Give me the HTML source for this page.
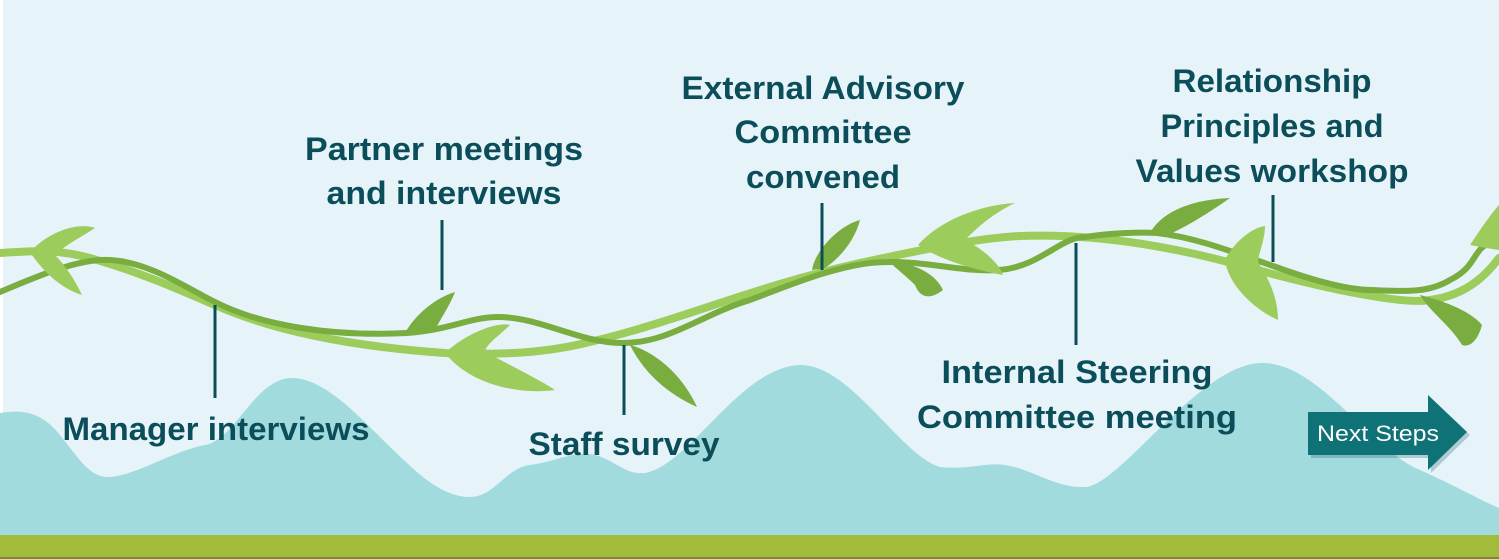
<!DOCTYPE html>
<html><head><meta charset="utf-8"><style>
html,body{margin:0;padding:0;background:#e6f4fa;}
svg{display:block}
text{font-family:"Liberation Sans",sans-serif;font-weight:bold;fill:#0b4e5a;font-size:32px}
</style></head><body>
<svg width="1499" height="559" viewBox="0 0 1499 559" xmlns="http://www.w3.org/2000/svg">
<rect width="1499" height="559" fill="#e6f4fa"/>
<rect x="0" y="0" width="3" height="559" fill="#ffffff"/>
<!-- hills -->
<path d="M0,413 C20,410 40,410 60,435 C80,460 90,478 110,477 C140,474 170,452 205,445 C235,440 255,378 292,378 C330,378 370,430 407,463 C430,485 450,497 470,497 C495,497 505,468 530,465 C555,462 575,450 595,455 C615,460 625,475 645,473 C690,465 740,367 800,365 C850,364 900,455 940,467 C970,470 985,462 1005,465 C1035,470 1055,488 1085,487 C1120,486 1200,363 1262,363 C1320,363 1370,450 1420,470 C1460,488 1480,500 1499,508 L1499,535 L0,535 Z" fill="#a2dbdd"/>
<rect x="0" y="535" width="1499" height="22" fill="#a3bb3a"/>
<rect x="0" y="557" width="1499" height="2" fill="#7a8a2a"/>
<!-- vine B light -->
<path d="M0,253 C40,250 60,250 90,258 C140,272 180,290 215,305 C260,325 330,345 445,353 C520,356 560,350 598,340 C680,320 760,285 860,263 C930,248 980,238 1020,236 C1100,233 1180,248 1250,268 C1320,287 1400,305 1430,300 C1470,295 1490,270 1499,258" fill="none" stroke="#9ccc5c" stroke-width="8" stroke-linecap="round"/>
<!-- vine A dark -->
<path d="M0,292 C40,275 80,258 110,260 C150,262 190,290 215,302 C260,325 330,337 407,333 C450,330 470,317 498,317 C540,317 580,343 622,343 C670,343 700,315 750,300 C790,285 830,268 870,263 C920,258 960,273 999,270 C1040,267 1060,237 1085,237 C1110,233 1140,232 1157,233 C1200,238 1240,255 1276,267 C1320,283 1350,290 1372,290 C1410,292 1430,292 1450,280 C1480,265 1470,248 1496,240" fill="none" stroke="#7aad3f" stroke-width="6" stroke-linecap="round"/>
<!-- leaves light -->
<g fill="#9ccc5c">
<path d="M30,252 C50,230 80,222 95,228 C80,238 65,245 55,255 C65,265 75,280 82,295 C65,290 45,275 30,252 Z"/>
<path d="M445,353 C470,330 500,322 510,325 C500,335 485,345 485,352 C510,365 540,380 555,390 C520,395 470,385 445,353 Z"/>
<path d="M918,245 C940,220 980,205 1015,203 C990,215 975,230 965,240 C985,250 1000,265 1003,275 C975,270 940,260 918,245 Z"/>
<path d="M1225,260 C1232,245 1250,228 1265,226 C1265,240 1258,255 1258,262 C1270,280 1278,300 1278,320 C1255,310 1228,285 1225,260 Z"/>
<path d="M1499,205 L1499,250 C1485,248 1470,245 1470,245 C1480,230 1490,215 1499,205 Z"/>
</g>
<!-- leaves dark -->
<g fill="#7aad3f">
<path d="M405,333 C415,315 435,298 455,292 C450,305 440,320 435,330 Z"/>
<path d="M630,345 C650,350 680,370 697,407 C670,395 645,375 630,345 Z"/>
<path d="M812,270 C815,250 840,225 860,220 C855,240 840,258 825,268 Z"/>
<path d="M890,262 C910,262 935,272 943,290 C930,300 920,298 915,285 C905,275 895,268 890,262 Z"/>
<path d="M1150,233 C1160,215 1185,200 1230,198 C1210,212 1185,228 1165,236 Z"/>
<path d="M1420,295 C1440,300 1470,310 1482,325 C1478,340 1470,348 1462,345 C1450,325 1430,312 1420,295 Z"/>
</g>
<!-- connectors -->
<g stroke="#0b4e5a" stroke-width="3">
<line x1="215" y1="305" x2="215" y2="398"/>
<line x1="442" y1="220" x2="442" y2="290"/>
<line x1="624" y1="345" x2="624" y2="415"/>
<line x1="822" y1="203" x2="822" y2="270"/>
<line x1="1076" y1="243" x2="1076" y2="345"/>
<line x1="1273" y1="195" x2="1273" y2="262"/>
</g>
<!-- labels -->
<g text-anchor="middle">
<text x="444" y="160" textLength="278" lengthAdjust="spacingAndGlyphs">Partner meetings</text>
<text x="444" y="204" textLength="235" lengthAdjust="spacingAndGlyphs">and interviews</text>
<text x="216" y="440" textLength="307" lengthAdjust="spacingAndGlyphs">Manager interviews</text>
<text x="624" y="455" textLength="191" lengthAdjust="spacingAndGlyphs">Staff survey</text>
<text x="823" y="99" textLength="283" lengthAdjust="spacingAndGlyphs">External Advisory</text>
<text x="823" y="143" textLength="177" lengthAdjust="spacingAndGlyphs">Committee</text>
<text x="823" y="188" textLength="154" lengthAdjust="spacingAndGlyphs">convened</text>
<text x="1077" y="383" textLength="271" lengthAdjust="spacingAndGlyphs">Internal Steering</text>
<text x="1077" y="428" textLength="320" lengthAdjust="spacingAndGlyphs">Committee meeting</text>
<text x="1272" y="92" textLength="199" lengthAdjust="spacingAndGlyphs">Relationship</text>
<text x="1272" y="137" textLength="223" lengthAdjust="spacingAndGlyphs">Principles and</text>
<text x="1272" y="182" textLength="273" lengthAdjust="spacingAndGlyphs">Values workshop</text>
</g>
<!-- next steps arrow -->
<path d="M1311,415 L1431,415 L1431,398 L1470,435 L1431,473 L1431,458 L1311,458 Z" fill="#0b4e5a" opacity="0.25"/>
<path d="M1308,412 L1428,412 L1428,395 L1467,432 L1428,470 L1428,455 L1308,455 Z" fill="#0f7277"/>
<text x="1378" y="441" text-anchor="middle" style="fill:#ffffff;font-weight:normal;font-size:22px" textLength="122" lengthAdjust="spacingAndGlyphs">Next Steps</text>
</svg>
</body></html>
